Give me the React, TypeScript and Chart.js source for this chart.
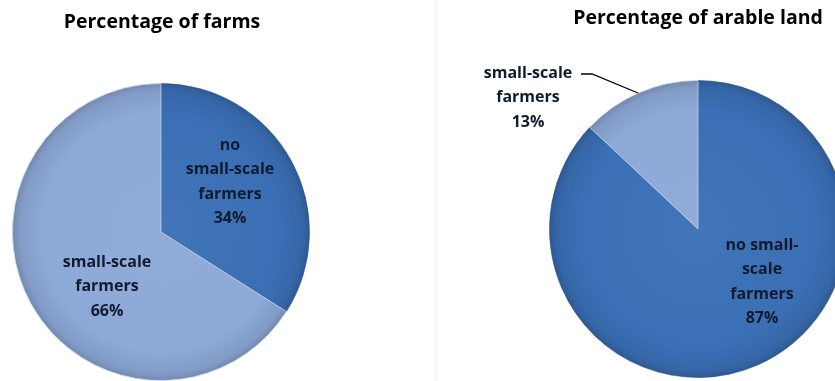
import React, { useEffect, useRef } from "react";
import { Chart, registerables } from "chart.js";
Chart.register(...registerables);

// ---- data ----
const farmCategories = ["no small-scale farmers", "small-scale farmers"];
const farmValues = [34, 66];
const landCategories = ["no small-scale farmers", "small-scale farmers"];
const landValues = [87, 13];
const chartTitles = ["Percentage of farms", "Percentage of arable land"];
// label lines as wrapped in the picture
const farmLabelLines = [["no", "small-scale", "farmers"], ["small-scale", "farmers"]];
const landLabelLines = [["no small-", "scale", "farmers"], ["small-scale", "farmers"]];

// ---- styles ----
const DARK = "#3a6fb5";
const LIGHT = "#8da9d7";
const TEXT = "#111b30";
const FONT = "'Open Sans', sans-serif";

type LabelPos = { dx: number; dy: number };
type PieStyle = {
  left: number;
  width: number;
  padding: { left: number; top: number; right: number; bottom: number };
  titleX: number;
  titleY: number;
  labelPos: LabelPos[];
  leader?: number[][];
};

const styles: PieStyle[] = [
  {
    left: 0,
    width: 435,
    padding: { left: 12, top: 83, right: 125, bottom: 0 },
    titleX: 162,
    titleY: 22,
    labelPos: [
      { dx: 69, dy: -87 },
      { dx: -54, dy: 30 },
    ],
  },
  {
    left: 435,
    width: 435,
    padding: { left: 114, top: 80, right: 23, bottom: 3 },
    titleX: 263,
    titleY: 18,
    labelPos: [
      { dx: 64, dy: 16 },
      { dx: -170, dy: -156 },
    ],
    leader: [
      [-117, -155],
      [-106, -155],
      [-60, -136],
    ],
  },
];

function shade(hex: string, f: number) {
  const n = parseInt(hex.slice(1), 16);
  const r = (n >> 16) & 255,
    g = (n >> 8) & 255,
    b = n & 255;
  const m = (c: number) => Math.max(0, Math.min(255, Math.round(f < 0 ? c * (1 + f) : c + (255 - c) * f)));
  return `rgb(${m(r)},${m(g)},${m(b)})`;
}

function PieChart({
  categories,
  values,
  lines,
  title,
  st,
}: {
  categories: string[];
  values: number[];
  lines: string[][];
  title: string;
  st: PieStyle;
}) {
  const ref = useRef<HTMLCanvasElement>(null);
  useEffect(() => {
    if (!ref.current) return;
    const base = [DARK, LIGHT];
    const labelPlugin = {
      id: "pieLabels",
      afterDraw(chart: any) {
        const ctx = chart.ctx;
        const meta = chart.getDatasetMeta(0);
        const arc = meta.data[0];
        const cx = arc.x,
          cy = arc.y;
        ctx.save();
        ctx.fillStyle = "#000";
        ctx.font = `bold 19.5px ${FONT}`;
        ctx.textAlign = "center";
        ctx.textBaseline = "middle";
        ctx.fillText(title, st.titleX, st.titleY);
        ctx.fillStyle = TEXT;
        ctx.font = `bold 16px ${FONT}`;
        const total = values.reduce((a, b) => a + b, 0);
        values.forEach((v, i) => {
          const p = st.labelPos[i];
          const all = [...lines[i], `${Math.round((v / total) * 100)}%`];
          all.forEach((t, k) => {
            ctx.fillText(t, cx + p.dx, cy + p.dy + k * 24.5);
          });
        });
        if (st.leader) {
          ctx.strokeStyle = "#000";
          ctx.lineWidth = 1.3;
          ctx.beginPath();
          st.leader.forEach((pt, k) => {
            if (k === 0) ctx.moveTo(cx + pt[0], cy + pt[1]);
            else ctx.lineTo(cx + pt[0], cy + pt[1]);
          });
          ctx.stroke();
        }
        ctx.restore();
      },
    };
    const chart = new Chart(ref.current, {
      type: "pie",
      data: {
        labels: categories,
        datasets: [
          {
            data: values,
            backgroundColor: (c: any) => {
              const chart = c.chart;
              const a = chart.chartArea;
              if (!a) return base[c.dataIndex];
              const x = (a.left + a.right) / 2,
                y = (a.top + a.bottom) / 2;
              const r = Math.min(a.right - a.left, a.bottom - a.top) / 2;
              const g = chart.ctx.createRadialGradient(x, y, 0, x, y, r);
              const col = base[c.dataIndex];
              g.addColorStop(0, shade(col, 0.04));
              g.addColorStop(0.8, col);
              g.addColorStop(0.95, shade(col, -0.08));
              g.addColorStop(1, shade(col, -0.2));
              return g;
            },
            borderColor: ["rgba(40,80,140,0.6)", "rgba(200,215,240,0.8)"],
            borderWidth: 1,
          },
        ],
      },
      options: {
        responsive: false,
        animation: false,
        rotation: 0,
        layout: { padding: st.padding },
        plugins: {
          legend: { display: false },
          tooltip: { enabled: false },
          title: { display: false },
        },
      },
      plugins: [labelPlugin],
    });
    return () => chart.destroy();
  }, []);
  return (
    <canvas
      ref={ref}
      width={st.width}
      height={381}
      style={{ position: "absolute", left: st.left, top: 0, width: st.width, height: 381 }}
    />
  );
}

export default function App() {
  useEffect(() => {
    document.body.style.margin = "0";
  }, []);
  return (
    <div style={{ position: "relative", width: 835, height: 381, overflow: "hidden", background: "#fff" }}>
      <div style={{ position: "absolute", left: 435, top: 0, width: 1, height: 381, background: "#f1f1f1" }} />
      <PieChart categories={farmCategories} values={farmValues} lines={farmLabelLines} title={chartTitles[0]} st={styles[0]} />
      <PieChart categories={landCategories} values={landValues} lines={landLabelLines} title={chartTitles[1]} st={styles[1]} />
    </div>
  );
}
